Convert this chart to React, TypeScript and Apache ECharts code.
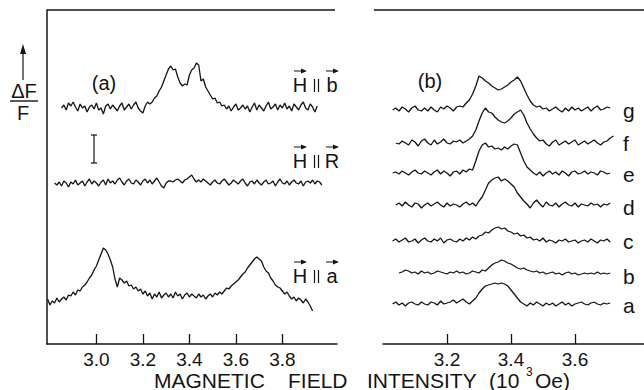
import React, { useEffect, useRef } from "react";
import * as echarts from "echarts";

// ---- Panel (a): x in 10^3 Oe, y = ΔF/F (arbitrary units, stacked) ----
const A_TICKS = [3.0, 3.2, 3.4, 3.6, 3.8];
const B_TICKS = [3.2, 3.4, 3.6];
const STEP = 0.01;

// H || b
const A_HB_START = 2.85;
const A_HB_OFFSET = 236;
const A_HB = [
  0, 3, -2, 5, 2, 6, 1, -3, 4, 0, 2, -4, 1, 3, -1, 5, -2, 0, -6, 2,
  4, -1, 3, 0, -3, 2, 5, -2, 1, 4, -1, 3, 6, 0, -3, -5, 2, 6,
  4, 6, 10, 12, 17, 21, 27, 33, 39, 42, 38, 39, 31, 25, 22, 24, 23, 33, 38, 40, 45, 43,
  27, 29, 21, 17, 13, 9, 10, 5, 6, 2, 3,
  -1, 2, -3, 1, 4, -2, 0, 3, -1, 2, -4, 1, 5, -2, 3, 0, -3, 2, 6, -1,
  1, 4, -2, 3, 0, 5, -1, 2, -3, 4, 1, -2, 3, 6, 0, -2, 4, 1, -4, 2,
];

// H || R
const A_HR_START = 2.82;
const A_HR_OFFSET = 161;
const A_HR = [
  0, -2, 1, -3, 2, 0, -4, 1, -1, 3, -2, 0, 2, -3, 1, 4, -1, 2, 0, -3,
  1, 3, -2, 4, 0, 2, -1, 3, 5, 1, -2, 2, 4, 0, -1, 3, 1, -2, 2, 4,
  0, 3, -1, 2, 5, 1, -3, -5, 0, 2, 2, 1, 3, 4, 2, 0, 3, 4, 6, 8,
  4, 1, 3, 1, 4, 2, 0, -2, 1, 3, 0, -1, 2, 4, 1, -2, 0, 3, 1, -1,
  2, 4, 0, -3, 1, 2, -1, 3, 0, -2, 1, 3, -1, 0, 2, -3, 1, 4, 0, -1,
  2, -2, 1, 3, 0, -1, 2, -3, 1, 2, 0, 3, -1, 2, 1, -2,
];

// H || a
const A_HA_START = 2.79;
const A_HA_OFFSET = 47;
const A_HA = [
  -2, -8, -4, -6, -1, -5, -2, 0, -3, 2,
  1, 5, 2, 7, 6, 10, 12, 15, 19, 22,
  27, 31, 37, 43, 49, 47, 43, 37, 30, 18,
  10, 19, 17, 14, 16, 11, 12, 8, 10, 6,
  8, 3, 6, 1, 4, -2, 3, 0, 5, -1,
  2, 4, 0, 3, -1, 5, 1, 3, -2, 2,
  4, 0, 3, 1, -1, 3, 0, 2, -2, 1,
  3, 0, 4, 2, 5, 3, 6, 9, 8, 11,
  13, 15, 17, 20, 23, 25, 29, 32, 35, 38,
  40, 38, 36, 30, 26, 24, 19, 16, 12, 10,
  9, 6, 3, 5, 1, -2, 0, -4, -1, -3,
  -6, -2, -5, -9, -14,
];

// ---- Panel (b) ----
const B_LABELS = ["g", "f", "e", "d", "c", "b", "a"];
const B_OFFSETS = [234, 201, 171, 139, 103, 71, 40];
const B_STARTS = [3.03, 3.04, 3.03, 3.04, 3.03, 3.05, 3.03];
const B_G = [
  0, 2, -1, 3, 1, -2, 2, 4, 0, -1, 2, -1, 3, 0, -2, 3, 1, 4, 2, -1,
  3, 4, 3, 7, 10, 16, 24, 34, 32, 29, 27, 24, 22, 20, 21, 23, 25, 28, 30, 33,
  29, 22, 15, 9, 5, 3, 4, 1, 2, -1, 1, 3, 0, -2, 2, -1, 3, 0, 2, -1,
  1, 3, -1, 2, 4, 0, 1, 3, 2,
];
const B_F = [
  0, -1, 2, 0, -2, 3, 1, -3, 2, 4, 0, -2, 3, -1, 1, 4, 0, -1, 2, 1,
  3, 0, 2, 4, 7, 13, 22, 30, 35, 31, 30, 26, 23, 21, 20, 22, 25, 29, 31, 33,
  28, 20, 14, 9, 5, 2, 3, -1, -3, 1, 3, -2, 0, 2, -1, 1, 3, -2, 0, 2,
  -1, 1, 3, 0, -2, 1, 2, 5, 7,
];
const B_E = [
  0, 1, -1, 2, 0, -2, 1, 3, 0, -1, 2, 0, -2, 1, 3, -1, 2, 0, -3, 1,
  2, -1, 3, 1, 4, 3, 12, 22, 28, 30, 26, 27, 24, 25, 23, 26, 24, 27, 29, 28,
  20, 12, 6, 3, 0, -2, 1, -3, 0, 2, -1, 1, -2, 2, 0, -3, 1, 2, -1, 0,
  2, -1, 1, 0, -2, 2, 1, -1, 0,
];
const B_D = [
  0, 2, -1, 3, 0, -2, 2, 1, -3, 0, 2, -1, 1, 3, 0, -2, 2, -1, 1, 0,
  -2, 1, 3, 0, 2, -1, 4, 8, 15, 22, 25, 27, 28, 24, 26, 24, 21, 18, 12, 8,
  4, 1, -3, 2, 5, 1, -2, 3, 0, -1, 2, -2, 1, 3, 0, -1, 2, -2, 1, 0,
  -1, 2, 0, 1, -2, 1, 0, 2,
];
const B_C = [
  0, 2, -1, 1, 3, -1, 0, 2, -2, 1, 3, 0, -1, 2, 0, 3, -2, 1, 2, 0,
  -1, 2, 0, 3, 1, 4, 2, 5, 6, 9, 8, 11, 13, 14, 12, 13, 10, 9, 7, 8,
  5, 6, 3, 4, 1, 2, 0, 3, -1, 1, 0, -2, 1, 0, 2, -1, 0, 1, -2, 0,
  1, -1, 2, 0, -2, 1, 0, 2, -1,
];
const B_B = [
  0, 1, 3, 2, 0, 1, -1, 2, 0, 1, -1, 0, 2, 1, 0, -1, 1, 0, 2, 0,
  1, -1, 0, 2, 1, 0, 3, 2, 5, 8, 10, 11, 13, 12, 10, 9, 7, 5, 4, 5,
  3, 2, 1, 2, 0, 1, -1, 0, 1, -1, 0, -2, 0, 1, -1, 0, -2, -1, 0, -1,
  0, -1, 1, -1, 0, -1, 0,
];
const B_A = [
  0, 2, -1, 1, -2, 1, 2, 0, -1, 2, 0, -1, 2, 1, -1, 3, 0, 1, 2, 4,
  1, 3, 5, 2, 0, 3, 6, 11, 15, 18, 19, 20, 21, 20, 21, 20, 18, 14, 10, 6,
  2, 0, -2, 1, -1, 2, 0, -2, 1, -1, 1, -2, 0, 2, -1, 1, -2, 0, 1, 2,
  0, -1, 1, 2, 0, -1, 1, 0, 1,
];
const B_TRACES = [B_G, B_F, B_E, B_D, B_C, B_B, B_A];

const INK = "#141414";
const FONT = "'Liberation Sans', Arial, sans-serif";

function trace(start: number, offset: number, vals: number[]) {
  return vals.map((v, i) => [Math.round((start + i * STEP) * 1000) / 1000, offset + v]);
}

function txt(x: number, y: number, text: string, size: number, align = "center") {
  return {
    type: "text",
    x,
    y,
    style: { text, fontSize: size, fontFamily: FONT, fill: INK, align, verticalAlign: "middle" },
  };
}

function vecArrow(x: number, y: number) {
  return [
    { type: "line", shape: { x1: x - 6, y1: y, x2: x + 3, y2: y }, style: { stroke: INK, lineWidth: 1 } },
    { type: "polygon", shape: { points: [[x + 7, y], [x + 1, y - 2.5], [x + 1, y + 2.5]] }, style: { fill: INK } },
  ];
}

function hLabel(y: number, letter: string) {
  return [
    txt(300, y, "H", 20),
    { type: "line", shape: { x1: 314.5, y1: y - 6, x2: 314.5, y2: y + 7 }, style: { stroke: INK, lineWidth: 1.2 } },
    { type: "line", shape: { x1: 318.5, y1: y - 6, x2: 318.5, y2: y + 7 }, style: { stroke: INK, lineWidth: 1.2 } },
    txt(332, y, letter, 20),
    ...vecArrow(300, y - 14),
    ...vecArrow(332, y - 14),
  ];
}

export default function App() {
  const ref = useRef<HTMLDivElement>(null);
  useEffect(() => {
    if (!ref.current) return;
    const chart = echarts.init(ref.current, undefined, { renderer: "svg" });
    const lineStyle = { color: INK, width: 1.3 };
    const mkSeries = (data: number[][], axis: number) => ({
      type: "line",
      xAxisIndex: axis,
      yAxisIndex: axis,
      data,
      showSymbol: false,
      symbol: "none",
      lineStyle,
      silent: true,
    });
    const axisBase = (min: number, max: number, ticks: number[], grid: number) => ({
      type: "value",
      gridIndex: grid,
      min,
      max,
      axisLine: { show: true, lineStyle: { color: INK, width: 1.5 } },
      axisTick: { show: true, inside: true, length: 10, customValues: ticks, lineStyle: { color: INK, width: 1.3 } },
      axisLabel: {
        show: true,
        customValues: ticks,
        formatter: (v: number) => v.toFixed(1),
        color: INK,
        fontSize: 19,
        fontFamily: FONT,
        margin: 6,
      },
      splitLine: { show: false },
    });
    const graphic: any[] = [
      // top frame lines
      { type: "line", shape: { x1: 47, y1: 10, x2: 335, y2: 10 }, style: { stroke: INK, lineWidth: 1.3 } },
      { type: "line", shape: { x1: 374, y1: 10, x2: 644, y2: 10 }, style: { stroke: INK, lineWidth: 1.3 } },
      // ΔF/F with arrow
      { type: "line", shape: { x1: 23, y1: 80, x2: 23, y2: 52 }, style: { stroke: INK, lineWidth: 1.2 } },
      { type: "polygon", shape: { points: [[23, 44], [20, 54], [26, 54]] }, style: { fill: INK } },
      txt(24, 91, "ΔF", 20),
      { type: "line", shape: { x1: 10, y1: 101, x2: 38, y2: 101 }, style: { stroke: INK, lineWidth: 1.4 } },
      txt(23, 113, "F", 20),
      // error bar
      { type: "line", shape: { x1: 94, y1: 135, x2: 94, y2: 163 }, style: { stroke: INK, lineWidth: 1.2 } },
      { type: "line", shape: { x1: 91, y1: 135, x2: 97, y2: 135 }, style: { stroke: INK, lineWidth: 1.2 } },
      { type: "line", shape: { x1: 91, y1: 163, x2: 97, y2: 163 }, style: { stroke: INK, lineWidth: 1.2 } },
      txt(104, 83, "(a)", 20),
      txt(430, 81, "(b)", 20),
      ...hLabel(85, "b"),
      ...hLabel(161, "R"),
      ...hLabel(276, "a"),
      // axis title
      txt(154, 380, "MAGNETIC", 21, "left"),
      txt(288, 380, "FIELD", 21, "left"),
      txt(367, 380, "INTENSITY", 21, "left"),
      txt(489, 380, "(10", 21, "left"),
      txt(526, 372, "3", 12, "left"),
      txt(535, 380, "Oe)", 21, "left"),
    ];
    const bLabelY = [110, 143, 174, 207, 241, 276, 305];
    B_LABELS.forEach((l, i) => graphic.push(txt(623, bLabelY[i], l, 21, "left")));

    chart.setOption({
      animation: false,
      backgroundColor: "#ffffff",
      grid: [
        { left: 47, top: 10, width: 290, height: 334 },
        { left: 383, top: 10, width: 261, height: 334 },
      ],
      xAxis: [axisBase(2.7875, 4.035, A_TICKS, 0), axisBase(3.0, 3.8156, B_TICKS, 1)],
      yAxis: [
        {
          type: "value", gridIndex: 0, min: 0, max: 334,
          axisLine: { show: true, lineStyle: { color: INK, width: 1.5 } },
          axisTick: { show: false }, axisLabel: { show: false }, splitLine: { show: false },
        },
        {
          type: "value", gridIndex: 1, min: 0, max: 334,
          axisLine: { show: false }, axisTick: { show: false }, axisLabel: { show: false }, splitLine: { show: false },
        },
      ],
      series: [
        mkSeries(trace(A_HB_START, A_HB_OFFSET, A_HB), 0),
        mkSeries(trace(A_HR_START, A_HR_OFFSET, A_HR), 0),
        mkSeries(trace(A_HA_START, A_HA_OFFSET, A_HA), 0),
        ...B_TRACES.map((vals, i) => mkSeries(trace(B_STARTS[i], B_OFFSETS[i], vals), 1)),
      ],
      graphic,
    });
    return () => chart.dispose();
  }, []);
  return <div ref={ref} style={{ width: 644, height: 390, position: "absolute", left: 0, top: 0 }} />;
}
